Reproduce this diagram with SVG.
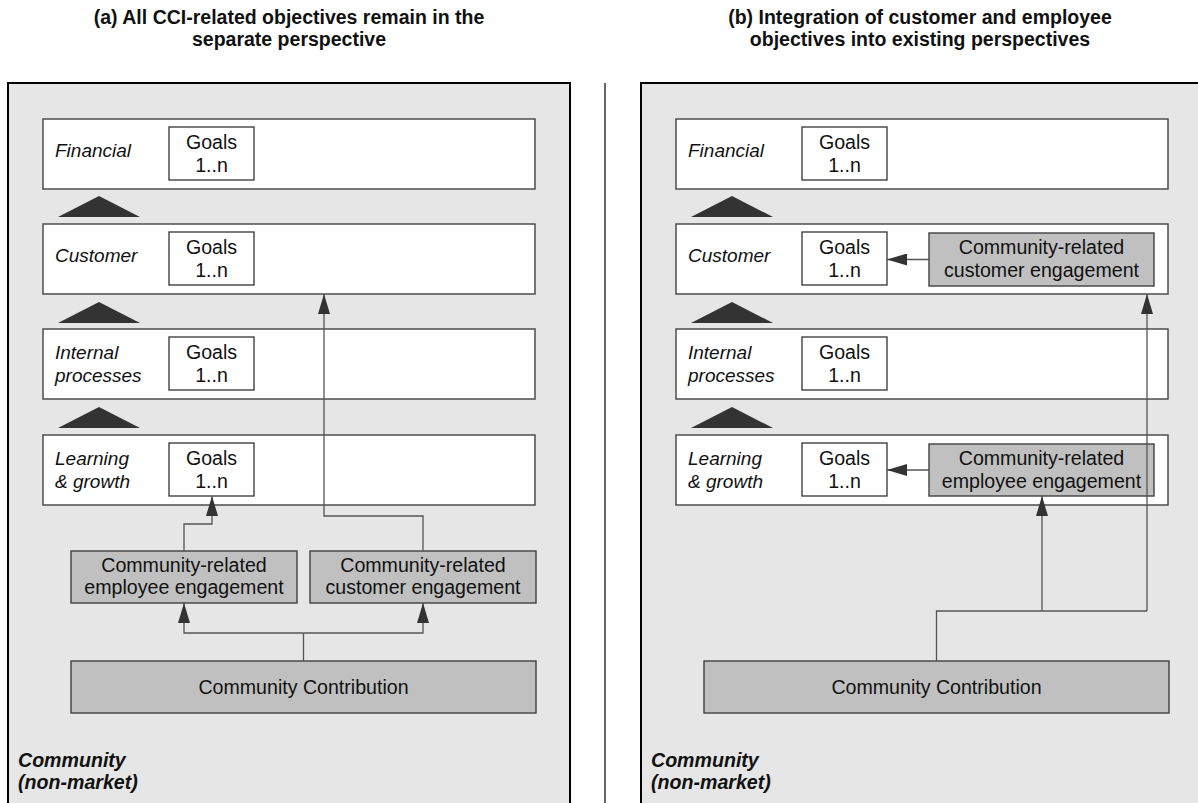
<svg xmlns="http://www.w3.org/2000/svg" width="1198" height="803" viewBox="0 0 1198 803">
<style>
text{font-family:"Liberation Sans",Arial,sans-serif;font-size:19.6px;fill:#111}
.title{font-weight:bold;font-size:19.5px;text-anchor:middle}
.panel{fill:#e6e6e6;stroke:#000;stroke-width:2}
.band{fill:#fff;stroke:#4d4d4d;stroke-width:1.5}
.goal{fill:#fff;stroke:#333;stroke-width:1.3}
.eng{fill:#c0c0c0;stroke:#404040;stroke-width:1.4}
.lbl{font-style:italic;font-size:19px}
.ctr{text-anchor:middle}
.comm{font-weight:bold;font-style:italic}
.tri{fill:#333}
.con{fill:none;stroke:#555;stroke-width:1.3}
</style>
<defs>
<marker id="ah" markerUnits="userSpaceOnUse" markerWidth="20" markerHeight="12" viewBox="0 0 20 12" refX="20" refY="6" orient="auto">
<path d="M0,0 L20,6 L0,12 z" fill="#333"/>
</marker>
</defs>

<g id="titles">
<text class="title" x="289" y="24">(a) All CCI-related objectives remain in the</text>
<text class="title" x="289" y="46">separate perspective</text>
<text class="title" x="920" y="24">(b) Integration of customer and employee</text>
<text class="title" x="920" y="46">objectives into existing perspectives</text>
</g>

<line id="divider" x1="605" y1="83" x2="605" y2="803" stroke="#000" stroke-width="1.2"/>

<!-- Panel A -->
<g id="panelA">
<rect class="panel" x="8" y="83" width="562" height="730"/>
<text class="comm" x="18" y="767">Community</text>
<text class="comm" x="18" y="789">(non-market)</text>
</g>
<g id="a-financial">
<rect class="band" x="43" y="119" width="492" height="70"/>
<text class="lbl" x="55" y="157">Financial</text>
<rect class="goal" x="169" y="127" width="85" height="53"/>
<text class="ctr" x="211.5" y="149">Goals</text>
<text class="ctr" x="211.5" y="172">1..n</text>
</g>
<g id="a-customer">
<rect class="band" x="43" y="224" width="492" height="70"/>
<text class="lbl" x="55" y="262">Customer</text>
<rect class="goal" x="169" y="232" width="85" height="53"/>
<text class="ctr" x="211.5" y="254">Goals</text>
<text class="ctr" x="211.5" y="277">1..n</text>
</g>
<g id="a-internal">
<rect class="band" x="43" y="329" width="492" height="70"/>
<text class="lbl" x="55" y="359">Internal</text>
<text class="lbl" x="55" y="382">processes</text>
<rect class="goal" x="169" y="337" width="85" height="53"/>
<text class="ctr" x="211.5" y="359">Goals</text>
<text class="ctr" x="211.5" y="382">1..n</text>
</g>
<g id="a-learning">
<rect class="band" x="43" y="435" width="492" height="70"/>
<text class="lbl" x="55" y="465">Learning</text>
<text class="lbl" x="55" y="488">&amp; growth</text>
<rect class="goal" x="169" y="443" width="85" height="53"/>
<text class="ctr" x="211.5" y="465">Goals</text>
<text class="ctr" x="211.5" y="488">1..n</text>
</g>
<g id="a-triangles">
<polygon class="tri" points="58,217 99,196 140,217"/>
<polygon class="tri" points="58,323 99,302 140,323"/>
<polygon class="tri" points="58,428 99,407 140,428"/>
</g>
<g id="a-employee">
<rect class="eng" x="71" y="551" width="226" height="52"/>
<text class="ctr" x="184" y="572">Community-related</text>
<text class="ctr" x="184" y="594">employee engagement</text>
</g>
<g id="a-custeng">
<rect class="eng" x="310" y="551" width="226" height="52"/>
<text class="ctr" x="423" y="572">Community-related</text>
<text class="ctr" x="423" y="594">customer engagement</text>
</g>
<g id="a-contribution">
<rect class="eng" x="71" y="661" width="465" height="52"/>
<text class="ctr" x="303.5" y="694">Community Contribution</text>
</g>

<!-- Panel B -->
<g id="panelB">
<rect class="panel" x="641" y="83" width="570" height="730"/>
<text class="comm" x="651" y="767">Community</text>
<text class="comm" x="651" y="789">(non-market)</text>
</g>
<g id="b-financial">
<rect class="band" x="676" y="119" width="492" height="70"/>
<text class="lbl" x="688" y="157">Financial</text>
<rect class="goal" x="802" y="127" width="85" height="53"/>
<text class="ctr" x="844.5" y="149">Goals</text>
<text class="ctr" x="844.5" y="172">1..n</text>
</g>
<g id="b-customer">
<rect class="band" x="676" y="224" width="492" height="70"/>
<text class="lbl" x="688" y="262">Customer</text>
<rect class="goal" x="802" y="232" width="85" height="53"/>
<text class="ctr" x="844.5" y="254">Goals</text>
<text class="ctr" x="844.5" y="277">1..n</text>
</g>
<g id="b-custeng">
<rect class="eng" x="929" y="233" width="225" height="53"/>
<text class="ctr" x="1041.5" y="254">Community-related</text>
<text class="ctr" x="1041.5" y="277">customer engagement</text>
</g>
<g id="b-internal">
<rect class="band" x="676" y="329" width="492" height="70"/>
<text class="lbl" x="688" y="359">Internal</text>
<text class="lbl" x="688" y="382">processes</text>
<rect class="goal" x="802" y="337" width="85" height="53"/>
<text class="ctr" x="844.5" y="359">Goals</text>
<text class="ctr" x="844.5" y="382">1..n</text>
</g>
<g id="b-learning">
<rect class="band" x="676" y="435" width="492" height="70"/>
<text class="lbl" x="688" y="465">Learning</text>
<text class="lbl" x="688" y="488">&amp; growth</text>
<rect class="goal" x="802" y="443" width="85" height="53"/>
<text class="ctr" x="844.5" y="465">Goals</text>
<text class="ctr" x="844.5" y="488">1..n</text>
</g>
<g id="b-employee">
<rect class="eng" x="929" y="444" width="225" height="52"/>
<text class="ctr" x="1041.5" y="465">Community-related</text>
<text class="ctr" x="1041.5" y="488">employee engagement</text>
</g>
<g id="b-triangles">
<polygon class="tri" points="691,217 732,196 773,217"/>
<polygon class="tri" points="691,323 732,302 773,323"/>
<polygon class="tri" points="691,428 732,407 773,428"/>
</g>
<g id="b-contribution">
<rect class="eng" x="704" y="661" width="465" height="52"/>
<text class="ctr" x="936.5" y="694">Community Contribution</text>
</g>

<g id="connectors">
<!-- panel A -->
<polyline class="con" points="303.5,661 303.5,633"/>
<polyline class="con" points="303.5,633 184,633 184,603" marker-end="url(#ah)"/>
<polyline class="con" points="303.5,633 423,633 423,603" marker-end="url(#ah)"/>
<polyline class="con" points="184,551 184,524 212,524 212,496" marker-end="url(#ah)"/>
<polyline class="con" points="423,551 423,516 324,516 324,294" marker-end="url(#ah)"/>
<!-- panel B -->
<polyline class="con" points="936.5,661 936.5,611 1147,611"/>
<polyline class="con" points="1042,611 1042,496" marker-end="url(#ah)"/>
<polyline class="con" points="1147,611 1147,294" marker-end="url(#ah)"/>
<polyline class="con" points="929,259.5 887,259.5" marker-end="url(#ah)"/>
<polyline class="con" points="929,470 887,470" marker-end="url(#ah)"/>
</g>
</svg>
